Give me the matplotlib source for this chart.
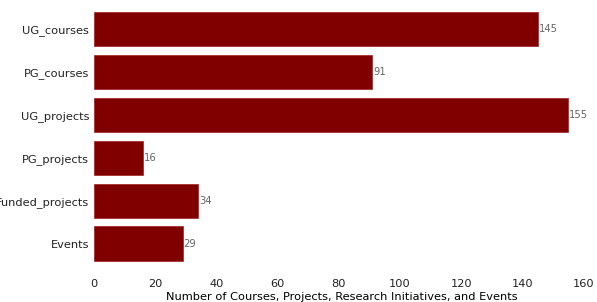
import numpy as np
import matplotlib.pyplot as plt

categories = ["UG_courses", "PG_courses", "UG_projects", "PG_projects", "Funded_projects", "Events"]
counts = [145, 91, 155, 16, 34, 29]

fig = plt.figure(figsize=(5.97, 3.02), dpi=100)
ax = fig.add_axes([0.1575, 0.1225, 0.83, 0.852])

y = np.arange(len(categories))
bars = ax.barh(y, counts, height=0.8, color="#800000", edgecolor="#a02020", linewidth=0.5)
ax.set_yticks(y)
ax.set_yticklabels(categories, fontsize=8.2)
ax.set_ylim(5.5, -0.5)
ax.set_xlim(0, 162)
ax.set_xticks(np.arange(0, 161, 20))
ax.tick_params(axis="x", labelsize=8.2, length=0, pad=10, colors="#222222")
ax.tick_params(axis="y", length=0, pad=3.5, colors="#222222")
for s in ax.spines.values():
    s.set_visible(False)

for b, v in zip(bars, counts):
    ax.text(b.get_width() + 0.3, b.get_y() + b.get_height() / 2, str(v),
            va="center", ha="left", fontsize=7.2, color="#666666")

ax.set_xlabel("Number of Courses, Projects, Research Initiatives, and Events", fontsize=8.2, labelpad=2)

plt.savefig("out.png", dpi=100)
